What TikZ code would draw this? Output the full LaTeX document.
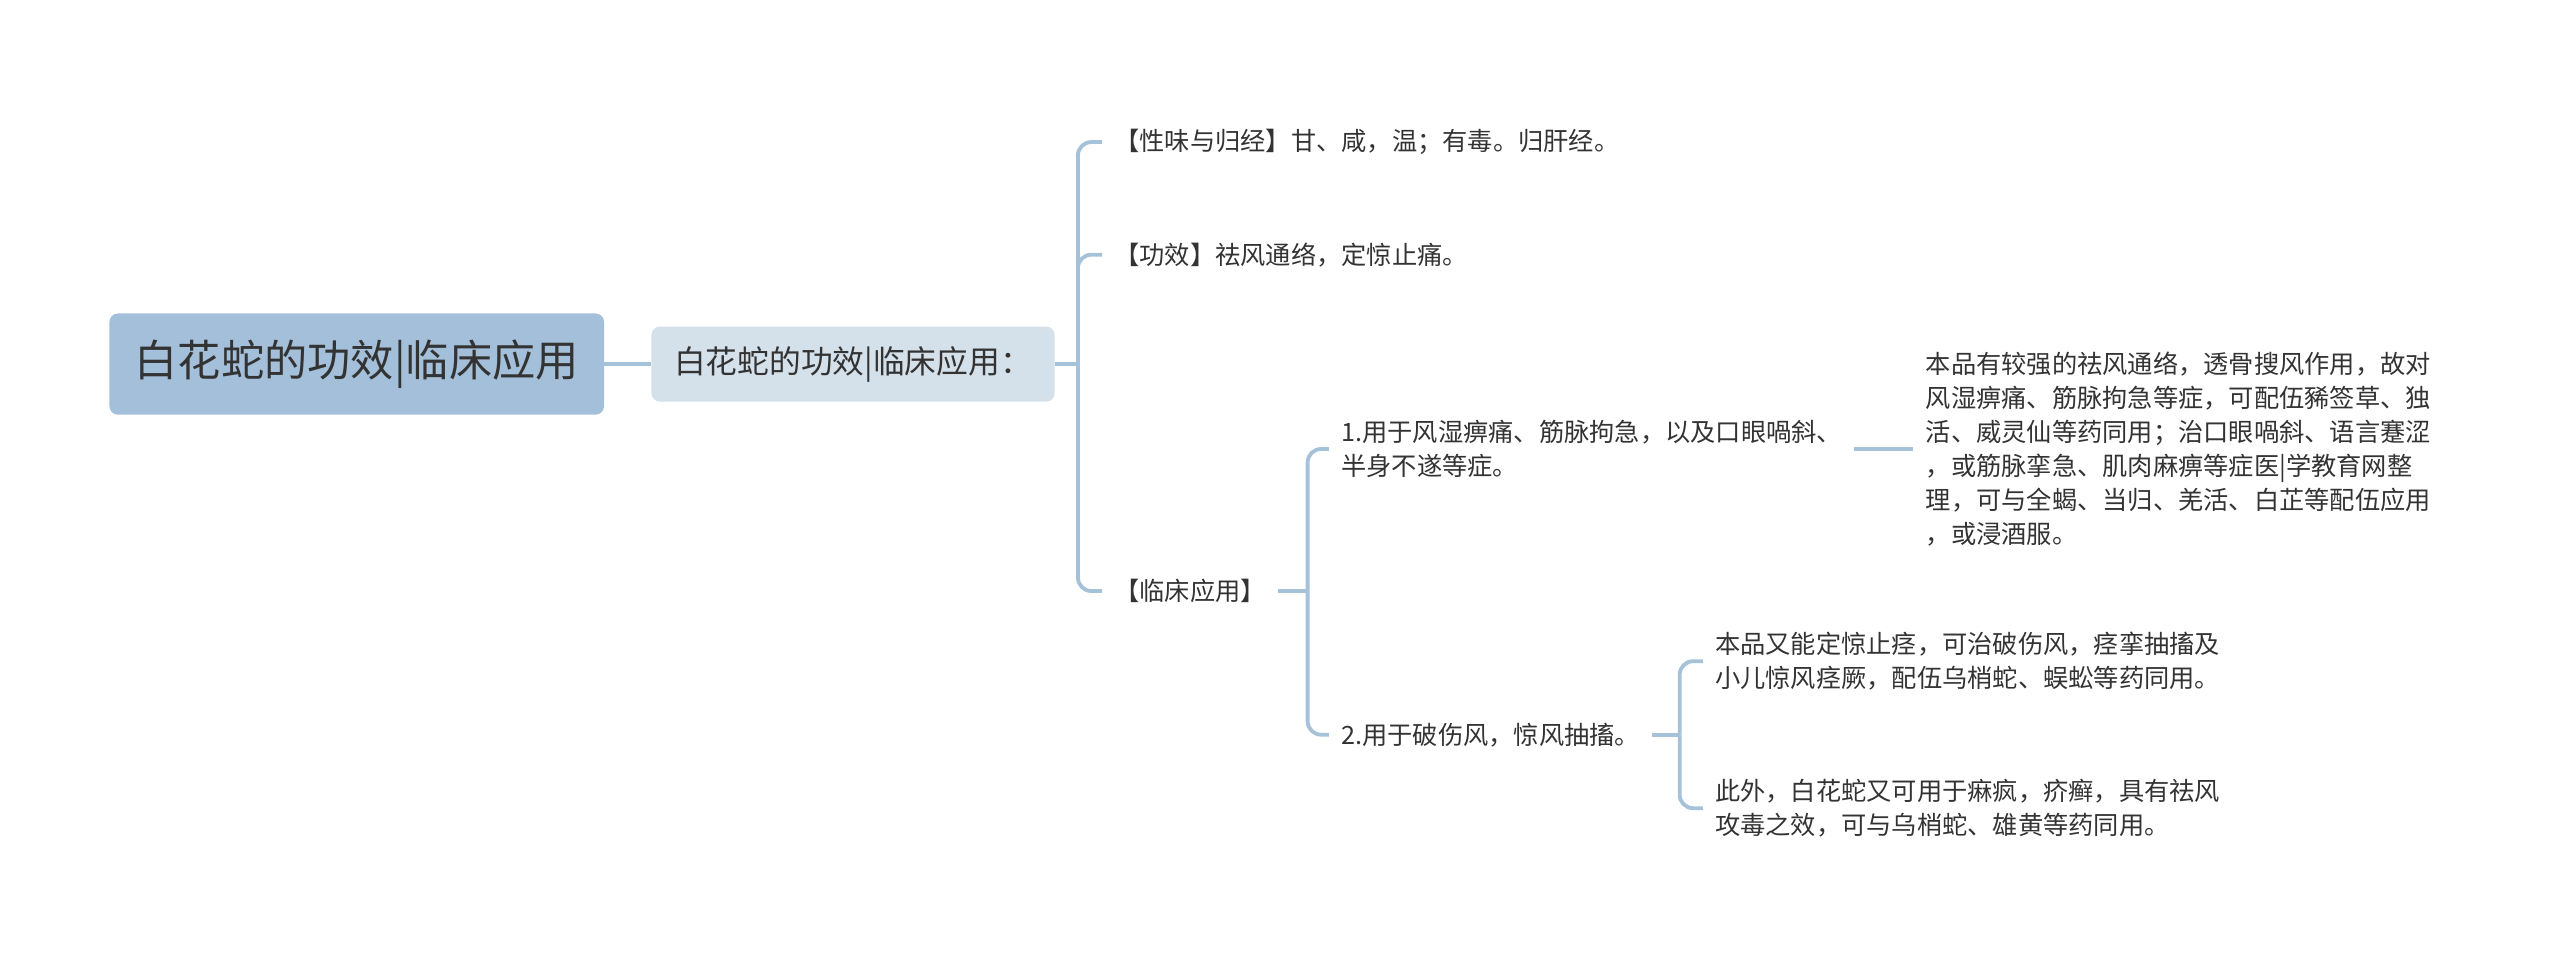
\documentclass[tikz,border=0pt]{standalone}
\usepackage{fontspec}
\setmainfont{Noto Sans CJK SC}
\usetikzlibrary{positioning}
\definecolor{rootblue}{HTML}{A3BFD9}
\definecolor{subblue}{HTML}{D5E1EA}
\definecolor{linkblue}{HTML}{A6C2D9}
\definecolor{txtgray}{HTML}{333333}

\begin{document}
\begin{tikzpicture}[x=0.03cm, y=-0.03cm]
        % stijlen
        \tikzstyle{rootbox} = [rectangle, rounded corners=4.5pt, fill=rootblue, text=txtgray, minimum width=9.09cm, minimum height=1.86cm, font=\fontsize{22.6}{26}\selectfont]
        \tikzstyle{subbox} = [rectangle, rounded corners=4.5pt, fill=subblue, text=txtgray, minimum width=7.41cm, minimum height=1.38cm, font=\fontsize{16.6}{20}\selectfont]
        \tikzstyle{leaf} = [inner xsep=0.22cm, inner ysep=2pt, anchor=west, align=left, text=txtgray, font=\fontsize{13.2}{17.8}\selectfont]
        \tikzstyle{link} = [draw=linkblue, line width=2pt, rounded corners=7pt]

        \useasboundingbox (0,0) rectangle (1568,589);

        % knopen
        \node (root) [rootbox] at (218.5,223) {白花蛇的功效|临床应用};
        \node (sub) [subbox] at (522.5,223) {白花蛇的功效|临床应用：};

        \node (xingwei) [leaf] at (675,87) {【性味与归经】甘、咸，温；有毒。归肝经。};
        \node (gongxiao) [leaf] at (675,156) {【功效】祛风通络，定惊止痛。};
        \node (linchuang) [leaf] at (675,362) {【临床应用】};

        \node (fengshi) [leaf] at (814,275) {1.用于风湿痹痛、筋脉拘急，以及口眼喎斜、\\半身不遂等症。};
        \node (poshang) [leaf] at (814,450) {2.用于破伤风，惊风抽搐。};

        \node (fengshiA) [leaf] at (1172,275) {本品有较强的祛风通络，透骨搜风作用，故对\\风湿痹痛、筋脉拘急等症，可配伍豨签草、独\\活、威灵仙等药同用；治口眼喎斜、语言蹇涩\\，或筋脉挛急、肌肉麻痹等症医|学教育网整\\理，可与全蝎、当归、羌活、白芷等配伍应用\\，或浸酒服。};

        \node (poshangA) [leaf] at (1043,405) {本品又能定惊止痉，可治破伤风，痉挛抽搐及\\小儿惊风痉厥，配伍乌梢蛇、蜈蚣等药同用。};
        \node (poshangB) [leaf] at (1043,495) {此外，白花蛇又可用于痳疯，疥癣，具有祛风\\攻毒之效，可与乌梢蛇、雄黄等药同用。};

        % vertakkingspunten
        \coordinate [right=0.42cm of sub] (j1);
        \coordinate [right=0.54cm of linchuang] (j2);
        \coordinate [right=0.5cm of poshang] (j3);

        % lijnen
        \draw [link] (root) -- (sub);
        \draw [link] (sub) -- (j1);
        \draw [link] (j1) |- (xingwei.west);
        \draw [link] (j1) |- (gongxiao.west);
        \draw [link] (j1) |- (linchuang.west);

        \draw [link] (linchuang) -- (j2);
        \draw [link] (j2) |- (fengshi.west);
        \draw [link] (j2) |- (poshang.west);

        \draw [link] (fengshi) -- (fengshiA);

        \draw [link] (poshang) -- (j3);
        \draw [link] (j3) |- (poshangA.west);
        \draw [link] (j3) |- (poshangB.west);

    \end{tikzpicture}
\end{document}
